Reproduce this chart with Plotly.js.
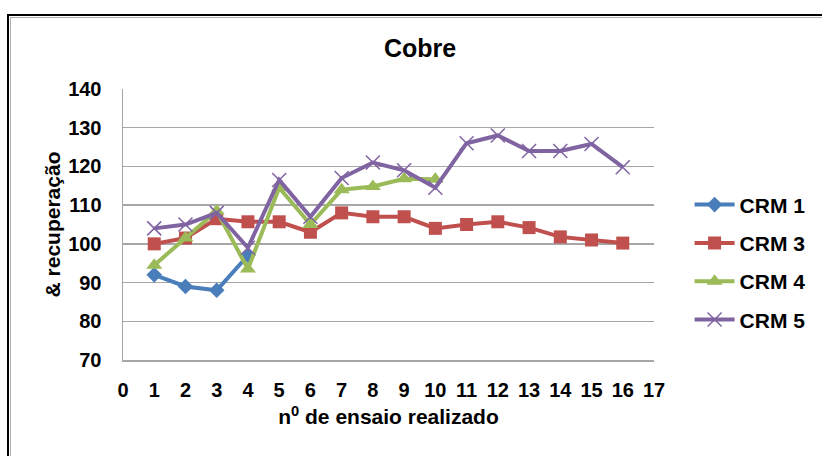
<!DOCTYPE html>
<html>
<head>
<meta charset="utf-8">
<script src="https://cdn.plot.ly/plotly-3.0.1.min.js"></script>
<style>
  html, body { margin: 0; padding: 0; background: #fff; overflow: hidden; }
  #chart { width: 822px; height: 456px; position: absolute; left: 0; top: 0; }
  #frame { position: absolute; left: 7px; top: 14px; width: 900px; height: 600px;
           border-left: 2px solid #000; border-top: 2px solid #000; pointer-events: none; z-index: 10; }
  #frame2 { position: absolute; left: 10px; top: 17px; width: 900px; height: 600px;
           border-left: 1px solid #b0b0b0; border-top: 1px solid #b0b0b0; pointer-events: none; z-index: 10; }
</style>
</head>
<body>
<div id="chart"></div>
<div id="frame"></div>
<div id="frame2"></div>
<script>
const seriesNames = ["CRM 1", "CRM 3", "CRM 4", "CRM 5"];
const xCrm1 = [1, 2, 3, 4];
const crm1 = [92, 89, 88, 97];
const xCrm3 = [1, 2, 3, 4, 5, 6, 7, 8, 9, 10, 11, 12, 13, 14, 15, 16];
const crm3 = [100, 101.5, 106.5, 105.7, 105.7, 103, 108, 107, 107, 104, 105, 105.7, 104.2, 101.8, 101, 100.2];
const xCrm4 = [1, 2, 3, 4, 5, 6, 7, 8, 9, 10];
const crm4 = [94.5, 101.5, 108.5, 93.5, 114.5, 105, 114, 114.8, 116.8, 116.7];
const xCrm5 = [1, 2, 3, 4, 5, 6, 7, 8, 9, 10, 11, 12, 13, 14, 15, 16];
const crm5 = [104, 105, 108, 99, 116.5, 107, 117, 121, 119, 114.5, 126, 128, 124, 124, 125.8, 119.8];
const xTicks = [0,1,2,3,4,5,6,7,8,9,10,11,12,13,14,15,16,17];
const yTicks = [70, 80, 90, 100, 110, 120, 130, 140];

const FONT = "Liberation Sans, Arial, sans-serif";
const colors = ["#4A7EBB", "#C0504D", "#9BBB59", "#8064A2"];

const traces = [
  { x: xCrm1, y: crm1, name: seriesNames[0], legendgroup: "g1", mode: "lines+markers",
    line: { color: colors[0], width: 4 }, marker: { symbol: "diamond", size: 12, color: colors[0] } },
  { x: xCrm3, y: crm3, name: seriesNames[1], legendgroup: "g2", mode: "lines+markers",
    line: { color: colors[1], width: 4 }, marker: { symbol: "square", size: 13, color: colors[1] } },
  { x: xCrm4, y: crm4, name: seriesNames[2], legendgroup: "g3", mode: "lines+markers",
    line: { color: colors[2], width: 4 }, marker: { symbol: "triangle-up", size: 14, color: colors[2] } },
  { x: xCrm5, y: crm5, name: seriesNames[3], legendgroup: "g4", mode: "lines+markers",
    line: { color: colors[3], width: 4 }, marker: { symbol: "x-thin", size: 14, color: colors[3], line: { color: colors[3], width: 1.5 } } }
];

const layout = {
  width: 822, height: 456,
  margin: { l: 123, r: 167, t: 89, b: 96 },
  paper_bgcolor: "#fff", plot_bgcolor: "#fff",
  font: { family: FONT, color: "#000", size: 20 },
  title: { text: "<b>Cobre</b>", x: 420/822, xanchor: "center", xref: "container",
           y: 1 - 48/456, yref: "container", yanchor: "middle",
           font: { family: FONT, size: 25, color: "#000" } },
  xaxis: {
    range: [0, 17], tickvals: xTicks, ticktext: xTicks.map(v => "<b>" + v + "</b>"),
    showgrid: false, zeroline: false, showline: true, linecolor: "#a6a6a6", linewidth: 1.5,
    ticks: "", ticklabelstandoff: 11, tickfont: { family: FONT, size: 20 },
    title: { text: "<b>n<sup>0</sup> de ensaio realizado</b>", standoff: 10, font: { family: FONT, size: 21 } }
  },
  yaxis: {
    range: [70, 140], tickvals: yTicks, ticktext: yTicks.map(v => "<b>" + v + "</b>"),
    showgrid: true, gridcolor: "#a6a6a6", gridwidth: 1.5, zeroline: false,
    showline: true, linecolor: "#a6a6a6", linewidth: 1.5,
    ticks: "", ticklabelstandoff: 16, tickfont: { family: FONT, size: 20 },
    title: { text: "<b>& recuperação</b>", standoff: 2, font: { family: FONT, size: 21 } }
  },
  showlegend: true,
  legend: { x: 1.065, xanchor: "left", y: 0.36, yanchor: "middle",
            font: { family: FONT, size: 21 }, traceorder: "grouped", tracegroupgap: 8,
            itemwidth: 40, bgcolor: "rgba(0,0,0,0)" }
};

traces.forEach(t => { t.name = "<b>" + t.name + "</b>"; });
Plotly.newPlot("chart", traces, layout, { displayModeBar: false, staticPlot: true });
</script>
</body>
</html>
